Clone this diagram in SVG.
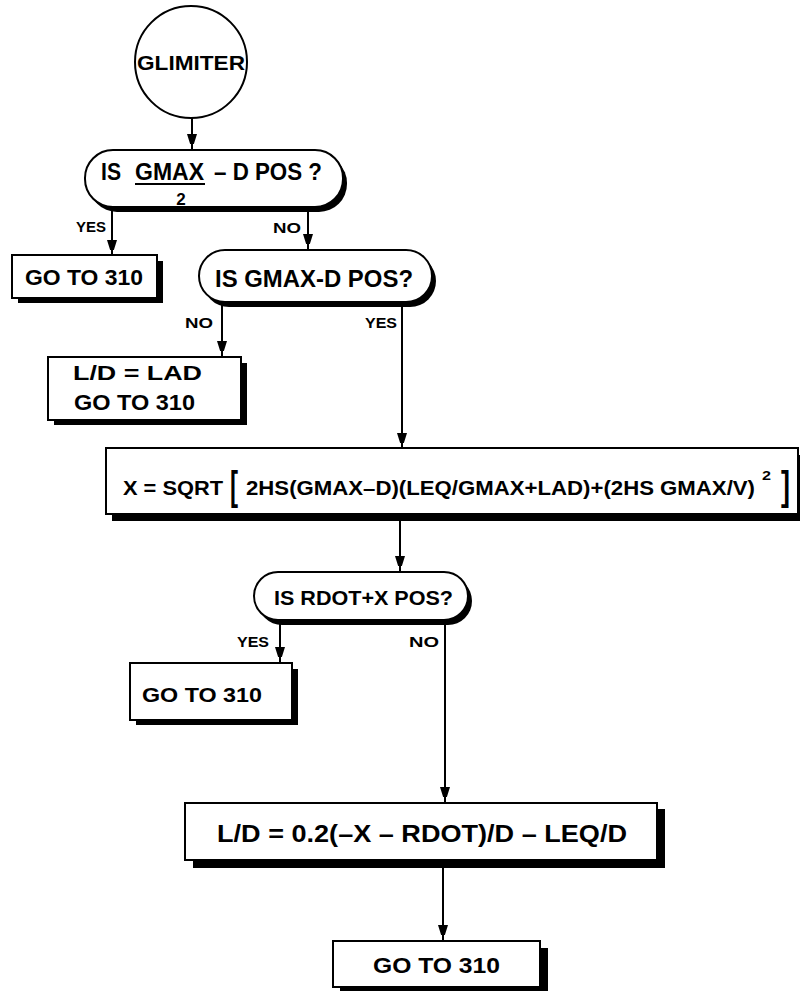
<svg xmlns="http://www.w3.org/2000/svg" width="800" height="991" viewBox="0 0 800 991">
<defs>
<style>
.t{font-family:"Liberation Sans",Arial,sans-serif;font-weight:bold;fill:#000}
.box{fill:#fff;stroke:#000;stroke-width:2}
.sh{fill:#000}
.ln{stroke:#000;stroke-width:2;fill:none}
.lbl{font-family:"Liberation Sans",Arial,sans-serif;font-weight:bold;font-size:15px;fill:#000}
</style>
<marker id="ah" viewBox="0 0 10 16" refX="16" refY="5" markerWidth="10" markerHeight="16" markerUnits="userSpaceOnUse" orient="auto">
<path d="M0,0 L16,5 L0,10 Z" fill="#000"/>
</marker>
</defs>
<rect width="800" height="991" fill="#fff"/>

<g id="connectors">
<line class="ln" x1="192" y1="118" x2="192" y2="150" marker-end="url(#ah)"/>
<line class="ln" x1="112" y1="209" x2="112" y2="256" marker-end="url(#ah)"/>
<text class="lbl" x="76" y="232" textLength="30" lengthAdjust="spacingAndGlyphs">YES</text>
<line class="ln" x1="308" y1="209" x2="308" y2="250" marker-end="url(#ah)"/>
<text class="lbl" x="273" y="233" textLength="28" lengthAdjust="spacingAndGlyphs">NO</text>
<line class="ln" x1="222" y1="304" x2="222" y2="357" marker-end="url(#ah)"/>
<text class="lbl" x="185" y="328" textLength="28" lengthAdjust="spacingAndGlyphs">NO</text>
<line class="ln" x1="402" y1="304" x2="402" y2="449" marker-end="url(#ah)"/>
<text class="lbl" x="365" y="328" textLength="32" lengthAdjust="spacingAndGlyphs">YES</text>
<line class="ln" x1="400" y1="520" x2="400" y2="572" marker-end="url(#ah)"/>
<line class="ln" x1="280" y1="622" x2="280" y2="663" marker-end="url(#ah)"/>
<text class="lbl" x="237" y="647" textLength="32" lengthAdjust="spacingAndGlyphs">YES</text>
<line class="ln" x1="445" y1="622" x2="445" y2="803" marker-end="url(#ah)"/>
<text class="lbl" x="409" y="647" textLength="30" lengthAdjust="spacingAndGlyphs">NO</text>
<line class="ln" x1="443" y1="866" x2="443" y2="941" marker-end="url(#ah)"/>
</g>

<g id="start">
<circle class="box" cx="191" cy="62" r="56"/>
<text class="t" x="191" y="70" font-size="21" text-anchor="middle" textLength="108" lengthAdjust="spacingAndGlyphs">GLIMITER</text>
</g>

<g id="decision1">
<rect class="sh" x="89" y="155" width="258" height="57" rx="28"/>
<rect class="box" x="85" y="150" width="258" height="57" rx="28"/>
<text class="t" x="101" y="180" font-size="23" textLength="20" lengthAdjust="spacingAndGlyphs">IS</text>
<text class="t" x="135" y="180" font-size="23" textLength="69" lengthAdjust="spacingAndGlyphs">GMAX</text>
<line x1="135" y1="184" x2="205" y2="184" stroke="#000" stroke-width="2"/>
<text class="t" x="181" y="205" font-size="17" text-anchor="middle">2</text>
<text class="t" x="214" y="180" font-size="23" textLength="108" lengthAdjust="spacingAndGlyphs">– D POS ?</text>
</g>

<g id="goto1">
<rect class="sh" x="18" y="261" width="145" height="42"/>
<rect class="box" x="12" y="255" width="145" height="43"/>
<text class="t" x="25" y="285" font-size="22" textLength="118" lengthAdjust="spacingAndGlyphs">GO TO 310</text>
</g>

<g id="decision2">
<rect class="sh" x="203" y="255" width="233" height="52" rx="26"/>
<rect class="box" x="199" y="250" width="233" height="52" rx="26"/>
<text class="t" x="215" y="287" font-size="24" textLength="198" lengthAdjust="spacingAndGlyphs">IS GMAX-D POS?</text>
</g>

<g id="lad">
<rect class="sh" x="54" y="363" width="193" height="62"/>
<rect class="box" x="48" y="357" width="193" height="63"/>
<text class="t" x="73" y="380" font-size="21" textLength="129" lengthAdjust="spacingAndGlyphs">L/D = LAD</text>
<text class="t" x="74" y="410" font-size="22" textLength="121" lengthAdjust="spacingAndGlyphs">GO TO 310</text>
</g>

<g id="compute-x">
<rect class="sh" x="112" y="455" width="700" height="66"/>
<rect class="box" x="106" y="448" width="692" height="66"/>
<text class="t" x="123" y="495" font-size="21" textLength="100" lengthAdjust="spacingAndGlyphs">X =  SQRT</text>
<text class="t" x="230" y="500" font-size="40" textLength="8" lengthAdjust="spacingAndGlyphs">[</text>
<text class="t" x="246" y="495" font-size="21" textLength="509" lengthAdjust="spacingAndGlyphs">2HS(GMAX–D)(LEQ/GMAX+LAD)+(2HS GMAX/V)</text>
<text class="t" x="762" y="480" font-size="13" textLength="9" lengthAdjust="spacingAndGlyphs">2</text>
<text class="t" x="781" y="500" font-size="40" textLength="9" lengthAdjust="spacingAndGlyphs">]</text>
</g>

<g id="decision3">
<rect class="sh" x="258" y="577" width="214" height="48" rx="24"/>
<rect class="box" x="254" y="572" width="214" height="48" rx="24"/>
<text class="t" x="274" y="605" font-size="21" textLength="179" lengthAdjust="spacingAndGlyphs">IS RDOT+X POS?</text>
</g>

<g id="goto2">
<rect class="sh" x="136" y="669" width="162" height="56"/>
<rect class="box" x="130" y="663" width="162" height="57"/>
<text class="t" x="142" y="702" font-size="21" textLength="120" lengthAdjust="spacingAndGlyphs">GO TO 310</text>
</g>

<g id="ld-compute">
<rect class="sh" x="193" y="809" width="472" height="59"/>
<rect class="box" x="185" y="803" width="472" height="57"/>
<text class="t" x="217" y="842" font-size="23" textLength="410" lengthAdjust="spacingAndGlyphs">L/D =  0.2(–X  –  RDOT)/D – LEQ/D</text>
</g>

<g id="goto3">
<rect class="sh" x="340" y="948" width="208" height="43"/>
<rect class="box" x="333" y="941" width="207" height="46"/>
<text class="t" x="373" y="973" font-size="22" textLength="127" lengthAdjust="spacingAndGlyphs">GO TO 310</text>
</g>
</svg>
